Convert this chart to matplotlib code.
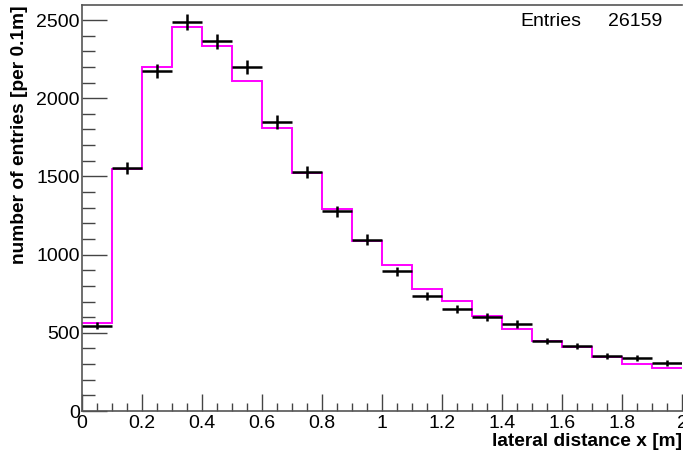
import numpy as np
import matplotlib
matplotlib.use("Agg")
import matplotlib.pyplot as plt
from matplotlib.ticker import MultipleLocator

bin_edges = [0.0, 0.1, 0.2, 0.3, 0.4, 0.5, 0.6, 0.7, 0.8, 0.9, 1.0,
             1.1, 1.2, 1.3, 1.4, 1.5, 1.6, 1.7, 1.8, 1.9, 2.0]
data_counts = [545, 1553, 2173, 2487, 2363, 2200, 1848, 1528, 1278, 1096,
               893, 735, 652, 603, 556, 447, 415, 353, 338, 306]
model_counts = [560, 1550, 2197, 2457, 2333, 2109, 1812, 1521, 1290, 1090,
                934, 780, 705, 605, 526, 449, 410, 348, 299, 278]
entries = 26159

plt.rcParams['font.family'] = ['Liberation Sans', 'DejaVu Sans']

fig = plt.figure(figsize=(6.83, 4.54), dpi=100)
ax = fig.add_axes([82/683, 1-411/454, 600/683, 406/454])

edges = np.array(bin_edges)
centers = 0.5 * (edges[:-1] + edges[1:])
halfw = 0.5 * np.diff(edges)
counts = np.array(data_counts)

ax.stairs(model_counts, edges, color='#ff00ff', lw=1.4, baseline=None, zorder=2)
ax.errorbar(centers, counts, xerr=halfw, yerr=np.sqrt(counts), fmt='none',
            ecolor='black', elinewidth=1.8, capsize=0, zorder=3)

ax.set_xlim(0, 2)
ax.set_ylim(0, 2596)
ax.xaxis.set_minor_locator(MultipleLocator(0.05))
ax.yaxis.set_major_locator(MultipleLocator(500))
ax.yaxis.set_minor_locator(MultipleLocator(100))
ax.set_xticks(np.arange(0, 2.01, 0.2))
ax.set_xticklabels(['0', '0.2', '0.4', '0.6', '0.8', '1', '1.2', '1.4', '1.6', '1.8', '2'])

ax.tick_params(axis='both', which='both', direction='in', color='#444444', width=1,
               labelsize=14, top=False, right=False)
ax.tick_params(axis='x', which='major', length=12, pad=3)
ax.tick_params(axis='x', which='minor', length=6)
ax.tick_params(axis='y', which='major', length=18, pad=1.5)
ax.tick_params(axis='y', which='minor', length=9)

for s in ['left', 'bottom', 'top']:
    ax.spines[s].set_color('#555555')
    ax.spines[s].set_linewidth(1.2)
ax.spines['right'].set_visible(False)

fig.text(20/683, 1-5/454, 'number of entries [per 0.1m]', rotation=90,
         ha='center', va='top', fontsize=13.8, fontweight='bold')
fig.text(682/683, 1-441/454, 'lateral distance x [m]', ha='right', va='center',
         fontsize=13.8, fontweight='bold')

fig.text(520/683, 1-21/454, 'Entries', ha='left', va='center', fontsize=14)
fig.text(662/683, 1-21/454, str(entries), ha='right', va='center', fontsize=14)

fig.savefig('out.png', dpi=100)
